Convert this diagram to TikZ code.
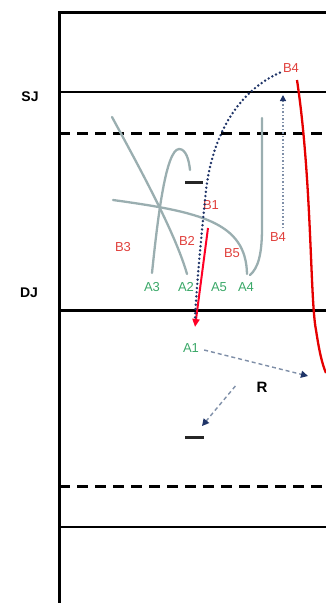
\documentclass[tikz,border=0pt]{standalone}
\usepackage{fontspec}
\setmainfont{Liberation Sans}
\usetikzlibrary{arrows.meta}
\definecolor{labred}{HTML}{E0403C}
\definecolor{labgreen}{HTML}{3AA868}
\definecolor{curvegray}{HTML}{9AAEB0}
\definecolor{navy}{HTML}{1F3468}
\definecolor{lightnavy}{HTML}{7F8FA8}
\tikzset{
  frameline/.style={line width=3pt, black},
  thinline/.style={line width=2pt, black},
  dashline/.style={line width=3pt, black, dash pattern=on 11pt off 7pt},
  graycurve/.style={line width=2.3pt, curvegray, line cap=round},
  redlab/.style={text=labred, font=\fontsize{13}{13}\selectfont, inner sep=1pt},
  greenlab/.style={text=labgreen, font=\fontsize{13}{13}\selectfont, inner sep=1pt},
  sidelab/.style={text=black, font=\bfseries\fontsize{14}{14}\selectfont, inner sep=1pt},
  navydots/.style={line width=2.7pt, navy, line cap=round, dash pattern=on 0pt off 4.2pt},
  lightdots/.style={line width=1.2pt, lightnavy, dash pattern=on 1.5pt off 2pt, -{Triangle[length=6pt,width=6pt,fill=navy,color=navy]}},
  dasharrow/.style={line width=1.4pt, lightnavy, dash pattern=on 4pt off 3pt, -{Triangle[length=7pt,width=7pt,fill=navy,color=navy]}},
  minusbar/.style={line width=3pt, black!85},
}
\begin{document}
\begin{tikzpicture}[x=1pt,y=-1pt]
\useasboundingbox (0,0) rectangle (326,603);
% frame and horizon lines
\draw[frameline] (59,603) -- (59,12) -- (326,12);
\draw[thinline] (59,92) -- (326,92);
\draw[dashline] (59,133) -- (326,133);
\draw[frameline] (59,310) -- (326,310);
\draw[dashline] (59,486) -- (326,486);
\draw[thinline] (59,527) -- (326,527);
\node[sidelab] (SJ) at (30,97) {SJ};
\node[sidelab] (DJ) at (29,293) {DJ};
% gray curves
\draw[graycurve] (112,117) .. controls (138,165) and (175,232) .. (187,274);
\draw[graycurve] (152,273) .. controls (158,215) and (166,150) .. (179,149) .. controls (186,149) and (189,160) .. (190,170);
\draw[graycurve] (113,200) .. controls (200,212) and (246,222) .. (247,274);
\draw[graycurve] (262,118) -- (262,228) .. controls (262,255) and (258,268) .. (250,275);
% minus bars
\draw[minusbar] (185,182) -- (203,182);
\draw[minusbar] (185,437) -- (204,437);
% labels
\node[redlab] (B1) at (211,205) {B1};
\node[redlab] (B2) at (187,241) {B2};
\node[redlab] (B3) at (123,247) {B3};
\node[redlab] (B5) at (232,253) {B5};
\node[redlab] (B4low) at (278,237) {B4};
\node[redlab] (B4top) at (291,68) {B4};
\node[greenlab] (A3) at (152,287) {A3};
\node[greenlab] (A2) at (186,287) {A2};
\node[greenlab] (A5) at (219,287) {A5};
\node[greenlab] (A4) at (246,287) {A4};
\node[greenlab] (A1) at (191,348) {A1};
\node[sidelab, font=\bfseries\fontsize{15}{15}\selectfont] (R) at (262,387) {R};
% red curve
\coordinate (rc0) at (297,80);
\coordinate (rc1) at (326,373);
\draw[line width=2.3pt, red!90!black] (rc0) .. controls (312,180) and (310,300) .. (316,330) .. controls (319,350) and (322,364) .. (rc1);
% red arrow B1 -> below DJ
\coordinate (ra0) at (208,228);
\coordinate (ra1) at (195,327);
\draw[line width=2pt, red!85!magenta, -{Triangle[length=8pt,width=7pt]}] (ra0) -- (ra1);
% navy dotted arc from top B4
\coordinate (nd1) at (195,318);
\draw[navydots] ([xshift=-2pt,yshift=1pt]B4top.south west) .. controls (245,88) and (214,125) .. (206,190) .. controls (201,240) and (197,280) .. (nd1);
% vertical light dotted arrow
\draw[lightdots] (B4low.north -| 283,0) ++(0,-3) -- (283,95);
% dashed arrows
\coordinate (e1) at (308,376);
\coordinate (e2) at (202,426);
\draw[dasharrow] ([xshift=4pt,yshift=-2pt]A1.east) -- (e1);
\draw[dasharrow] ([xshift=-20pt,yshift=1pt]R.west) -- (e2);
\end{tikzpicture}
\end{document}
